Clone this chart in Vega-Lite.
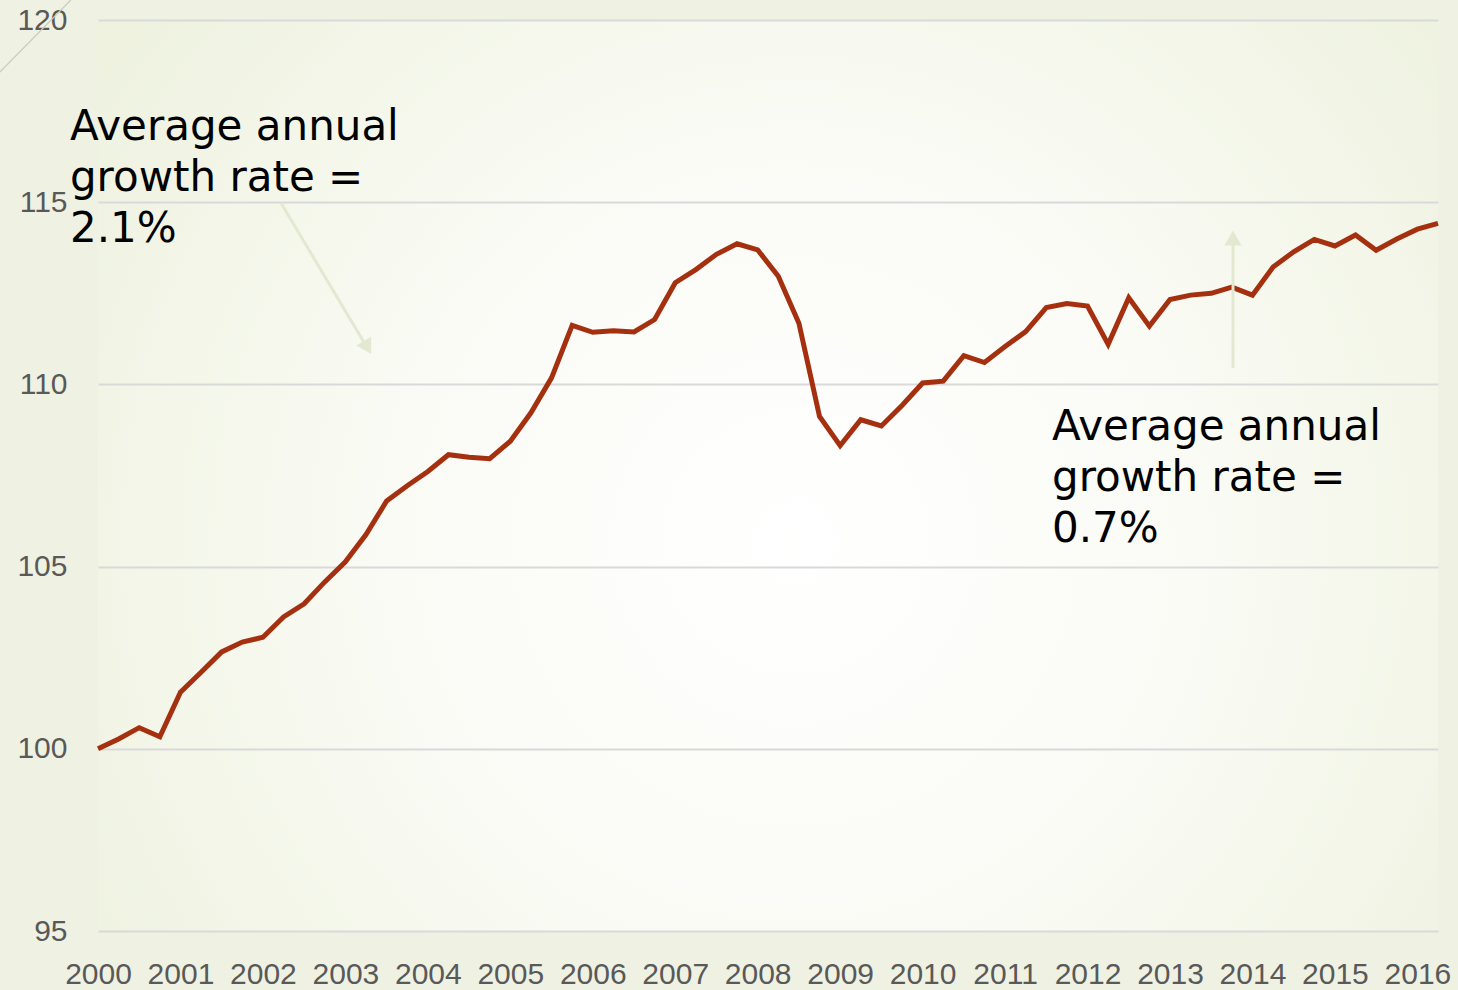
{
  "$schema": "https://vega.github.io/schema/vega-lite/v6.json",
  "autosize": "none",
  "width": 1340,
  "height": 911,
  "padding": {"left": 98, "top": 20, "right": 20, "bottom": 59},
  "background": "#eff2e2",
  "config": {
    "view": {
      "stroke": null,
      "fill": {"gradient": "radial", "x1": 0.52, "y1": 0.55, "r1": 0, "x2": 0.52, "y2": 0.55, "r2": 0.66,
        "stops": [{"offset": 0, "color": "#ffffff"}, {"offset": 0.45, "color": "#fafbf5"}, {"offset": 1, "color": "#edf1dd"}]}
    }
  },
  "encoding": {
    "x": {"field": "year", "type": "quantitative",
      "scale": {"domain": [2000, 2016.25], "nice": false, "zero": false},
      "axis": {"title": null, "values": [2000,2001,2002,2003,2004,2005,2006,2007,2008,2009,2010,2011,2012,2013,2014,2015,2016],
        "format": "d", "grid": false, "ticks": false, "domain": false, "labelOverlap": false, "labelFlush": false,
        "labelFont": "Liberation Sans", "labelFontSize": 30, "labelColor": "#595959", "labelBaseline": "alphabetic", "labelPadding": 52}},
    "y": {"field": "value", "type": "quantitative",
      "scale": {"domain": [95, 120], "nice": false, "zero": false},
      "axis": {"title": null, "values": [95,100,105,110,115,120], "grid": true, "gridColor": "#d9d9d9", "gridWidth": 2,
        "ticks": false, "domain": false, "labelFont": "Liberation Sans", "labelFontSize": 30, "labelColor": "#595959",
        "labelPadding": 31, "labelOverlap": false, "labelFlush": false}}
  },
  "layer": [
    {
      "data": {"values": [
        {"year": 1998.81, "value": 118.57},
        {"year": 1999.67, "value": 120.55}
      ]},
      "mark": {"type": "line", "color": "#c9cdb9", "strokeWidth": 1.2}
    },
    {
      "data": {"values": [
        {"year": 2000.00, "value": 100.00},
        {"year": 2000.25, "value": 100.27},
        {"year": 2000.50, "value": 100.58},
        {"year": 2000.75, "value": 100.33},
        {"year": 2001.00, "value": 101.55},
        {"year": 2001.25, "value": 102.10},
        {"year": 2001.50, "value": 102.66},
        {"year": 2001.75, "value": 102.93},
        {"year": 2002.00, "value": 103.06},
        {"year": 2002.25, "value": 103.62},
        {"year": 2002.50, "value": 103.98},
        {"year": 2002.75, "value": 104.58},
        {"year": 2003.00, "value": 105.13},
        {"year": 2003.25, "value": 105.88},
        {"year": 2003.50, "value": 106.80},
        {"year": 2003.75, "value": 107.22},
        {"year": 2004.00, "value": 107.61},
        {"year": 2004.25, "value": 108.07},
        {"year": 2004.50, "value": 108.00},
        {"year": 2004.75, "value": 107.96},
        {"year": 2005.00, "value": 108.44},
        {"year": 2005.25, "value": 109.22},
        {"year": 2005.50, "value": 110.18},
        {"year": 2005.75, "value": 111.62},
        {"year": 2006.00, "value": 111.43},
        {"year": 2006.25, "value": 111.47},
        {"year": 2006.50, "value": 111.44},
        {"year": 2006.75, "value": 111.78},
        {"year": 2007.00, "value": 112.79},
        {"year": 2007.25, "value": 113.15},
        {"year": 2007.50, "value": 113.57},
        {"year": 2007.75, "value": 113.86},
        {"year": 2008.00, "value": 113.69},
        {"year": 2008.25, "value": 112.97},
        {"year": 2008.50, "value": 111.68},
        {"year": 2008.75, "value": 109.12},
        {"year": 2009.00, "value": 108.32},
        {"year": 2009.25, "value": 109.03},
        {"year": 2009.50, "value": 108.86},
        {"year": 2009.75, "value": 109.42},
        {"year": 2010.00, "value": 110.04},
        {"year": 2010.25, "value": 110.09},
        {"year": 2010.50, "value": 110.79},
        {"year": 2010.75, "value": 110.60},
        {"year": 2011.00, "value": 111.04},
        {"year": 2011.25, "value": 111.45},
        {"year": 2011.50, "value": 112.11},
        {"year": 2011.75, "value": 112.22},
        {"year": 2012.00, "value": 112.15},
        {"year": 2012.25, "value": 111.10},
        {"year": 2012.50, "value": 112.38},
        {"year": 2012.75, "value": 111.60},
        {"year": 2013.00, "value": 112.33},
        {"year": 2013.25, "value": 112.45},
        {"year": 2013.50, "value": 112.50},
        {"year": 2013.75, "value": 112.67},
        {"year": 2014.00, "value": 112.45},
        {"year": 2014.25, "value": 113.22},
        {"year": 2014.50, "value": 113.64},
        {"year": 2014.75, "value": 113.98},
        {"year": 2015.00, "value": 113.80},
        {"year": 2015.25, "value": 114.10},
        {"year": 2015.50, "value": 113.68},
        {"year": 2015.75, "value": 113.99},
        {"year": 2016.00, "value": 114.26},
        {"year": 2016.25, "value": 114.42}
      ]},
      "mark": {"type": "line", "color": "#a5300f", "strokeWidth": 5, "strokeJoin": "miter", "strokeCap": "butt"}
    },
    {
      "data": {"values": [
        {"arrow": "left", "year": 2002.219, "value": 114.98},
        {"arrow": "left", "year": 2003.245, "value": 111.08},
        {"arrow": "right", "year": 2013.764, "value": 110.45},
        {"arrow": "right", "year": 2013.764, "value": 113.95}
      ]},
      "mark": {"type": "line", "color": "#e3e9d1", "strokeWidth": 3},
      "encoding": {"detail": {"field": "arrow", "type": "nominal"}}
    },
    {
      "data": {"values": [{"year": 2003.252, "value": 111.068}]},
      "mark": {"type": "point", "shape": "triangle", "filled": true, "size": 300, "angle": 149.4, "color": "#e3e9d1", "opacity": 1}
    },
    {
      "data": {"values": [{"year": 2013.764, "value": 113.95}]},
      "mark": {"type": "point", "shape": "triangle", "filled": true, "size": 300, "angle": 0, "color": "#e3e9d1", "opacity": 1}
    },
    {
      "data": {"values": [
        {"year": 1999.66, "value": 116.707, "label": "Average annual\ngrowth rate =\n2.1%"},
        {"year": 2011.569, "value": 108.474, "label": "Average annual\ngrowth rate =\n0.7%"}
      ]},
      "mark": {"type": "text", "align": "left", "baseline": "alphabetic", "font": "DejaVu Sans", "fontSize": 42,
        "lineHeight": 51, "lineBreak": "\n", "color": "#000000"},
      "encoding": {"text": {"field": "label", "type": "nominal"}}
    }
  ]
}
